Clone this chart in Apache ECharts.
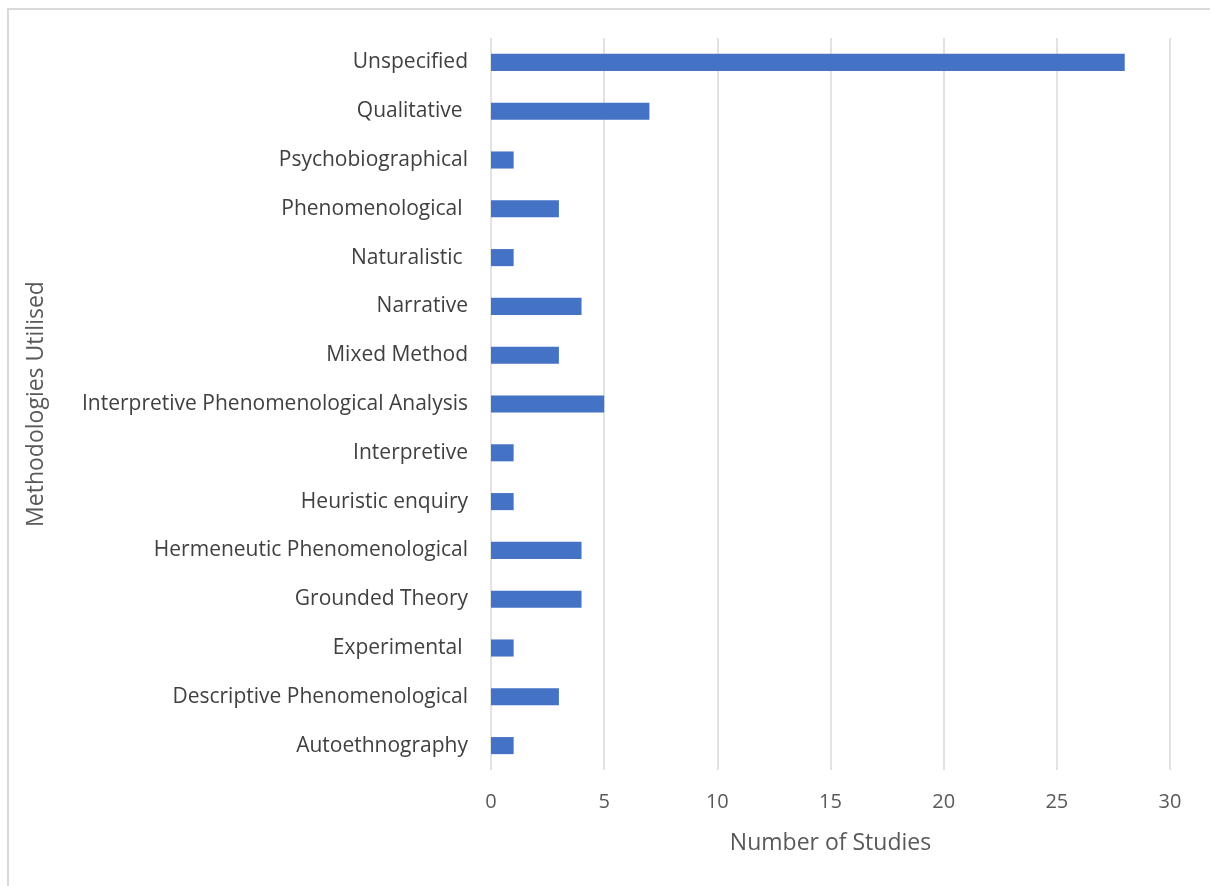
<!DOCTYPE html>
<html>
<head>
<meta charset="utf-8">
<script src="https://cdn.jsdelivr.net/npm/echarts@6/dist/echarts.min.js"></script>
<style>
html,body{margin:0;padding:0;background:#fff;}
#chart{width:1210px;height:886px;}
</style>
</head>
<body>
<div id="chart"></div>
<script>
const categories = [
  "Autoethnography",
  "Descriptive Phenomenological",
  "Experimental ",
  "Grounded Theory",
  "Hermeneutic Phenomenological",
  "Heuristic enquiry",
  "Interpretive",
  "Interpretive Phenomenological Analysis",
  "Mixed Method",
  "Narrative",
  "Naturalistic ",
  "Phenomenological ",
  "Psychobiographical",
  "Qualitative ",
  "Unspecified"
];
const studies = [1, 3, 1, 4, 4, 1, 1, 5, 3, 4, 1, 3, 1, 7, 28];
const xTicks = [0, 5, 10, 15, 20, 25, 30];

const FONT = "'Open Sans', sans-serif";
const chart = echarts.init(document.getElementById('chart'), null, {renderer: 'canvas'});
chart.setOption({
  animation: false,
  backgroundColor: '#ffffff',
  graphic: [{
    type: 'rect',
    shape: {x: 8, y: 9, width: 1400, height: 1000},
    style: {fill: 'none', stroke: '#d9d9d9', lineWidth: 2},
    silent: true
  }],
  grid: {left: 491, right: 40, top: 38, bottom: 116, containLabel: false},
  xAxis: {
    type: 'value',
    min: xTicks[0],
    max: xTicks[xTicks.length - 1],
    interval: 5,
    name: 'Number of Studies',
    nameLocation: 'middle',
    nameGap: 62,
    nameTextStyle: {fontFamily: FONT, fontSize: 23, color: '#595959'},
    axisLine: {show: false},
    axisTick: {show: false},
    axisLabel: {fontFamily: FONT, fontSize: 20, color: '#595959', margin: 22},
    splitLine: {show: true, lineStyle: {color: '#d9d9d9', width: 1.5}}
  },
  yAxis: {
    type: 'category',
    data: categories,
    name: 'Methodologies Utilised',
    nameLocation: 'middle',
    nameGap: 443,
    nameRotate: 90,
    nameTextStyle: {fontFamily: FONT, fontSize: 23, color: '#595959'},
    axisLine: {show: false},
    axisTick: {show: false},
    axisLabel: {fontFamily: FONT, fontSize: 21, color: '#404040', margin: 23}
  },
  series: [{
    type: 'bar',
    data: studies,
    barWidth: '35%',
    itemStyle: {color: '#4472C4'}
  }]
});
</script>
</body>
</html>
